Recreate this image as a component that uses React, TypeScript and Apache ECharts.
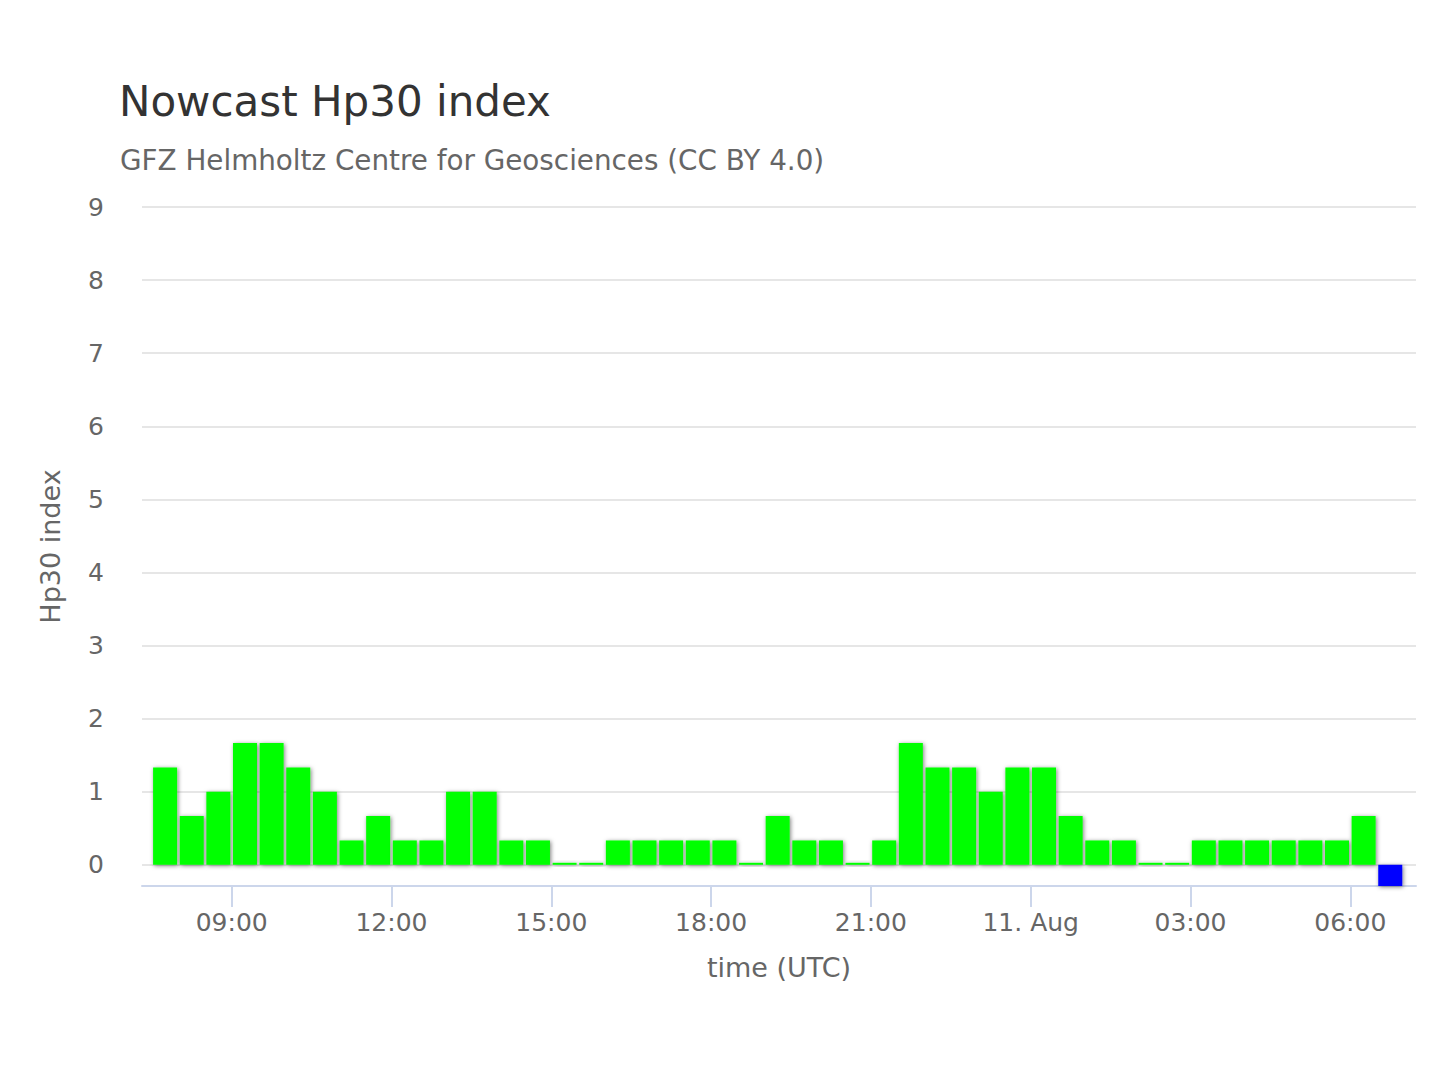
import React, { useEffect, useRef } from "react";
import * as echarts from "echarts";

const FONT = "DejaVu Sans";

// Start time (UTC) of each 30-minute Hp30 interval
const intervalStarts = [
  "2024-08-10T07:30:00Z", "2024-08-10T08:00:00Z", "2024-08-10T08:30:00Z", "2024-08-10T09:00:00Z",
  "2024-08-10T09:30:00Z", "2024-08-10T10:00:00Z", "2024-08-10T10:30:00Z", "2024-08-10T11:00:00Z",
  "2024-08-10T11:30:00Z", "2024-08-10T12:00:00Z", "2024-08-10T12:30:00Z", "2024-08-10T13:00:00Z",
  "2024-08-10T13:30:00Z", "2024-08-10T14:00:00Z", "2024-08-10T14:30:00Z", "2024-08-10T15:00:00Z",
  "2024-08-10T15:30:00Z", "2024-08-10T16:00:00Z", "2024-08-10T16:30:00Z", "2024-08-10T17:00:00Z",
  "2024-08-10T17:30:00Z", "2024-08-10T18:00:00Z", "2024-08-10T18:30:00Z", "2024-08-10T19:00:00Z",
  "2024-08-10T19:30:00Z", "2024-08-10T20:00:00Z", "2024-08-10T20:30:00Z", "2024-08-10T21:00:00Z",
  "2024-08-10T21:30:00Z", "2024-08-10T22:00:00Z", "2024-08-10T22:30:00Z", "2024-08-10T23:00:00Z",
  "2024-08-10T23:30:00Z", "2024-08-11T00:00:00Z", "2024-08-11T00:30:00Z", "2024-08-11T01:00:00Z",
  "2024-08-11T01:30:00Z", "2024-08-11T02:00:00Z", "2024-08-11T02:30:00Z", "2024-08-11T03:00:00Z",
  "2024-08-11T03:30:00Z", "2024-08-11T04:00:00Z", "2024-08-11T04:30:00Z", "2024-08-11T05:00:00Z",
  "2024-08-11T05:30:00Z", "2024-08-11T06:00:00Z", "2024-08-11T06:30:00Z",
];

// Hp30 values (null = not yet available)
const hp30Values = [
  1.333, 0.667, 1, 1.667, 1.667, 1.333, 1, 0.333,
  0.667, 0.333, 0.333, 1, 1, 0.333, 0.333, 0,
  0, 0.333, 0.333, 0.333, 0.333, 0.333, 0, 0.667,
  0.333, 0.333, 0, 0.333, 1.667, 1.333, 1.333, 1,
  1.333, 1.333, 0.667, 0.333, 0.333, 0, 0, 0.333,
  0.333, 0.333, 0.333, 0.333, 0.333, 0.667, null,
];

// Nowcast placeholder interval (blue)
const nowcastStarts = ["2024-08-11T06:30:00Z"];
const nowcastValues = [-0.29];

const xTickTimes = [
  "2024-08-10T09:00:00Z", "2024-08-10T12:00:00Z", "2024-08-10T15:00:00Z", "2024-08-10T18:00:00Z",
  "2024-08-10T21:00:00Z", "2024-08-11T00:00:00Z", "2024-08-11T03:00:00Z", "2024-08-11T06:00:00Z",
];
const yTickValues = [0, 1, 2, 3, 4, 5, 6, 7, 8, 9];

const X_MIN = "2024-08-10T07:19:00Z";
const X_MAX = "2024-08-11T07:14:00Z";
const Y_MIN = -0.29;
const Y_MAX = 9;

const MONTHS = ["Jan", "Feb", "Mar", "Apr", "May", "Jun", "Jul", "Aug", "Sep", "Oct", "Nov", "Dec"];
const HALF_SLOT = 15 * 60 * 1000;

function pad(n: number) {
  return n < 10 ? "0" + n : String(n);
}

function formatTime(v: number) {
  const d = new Date(v);
  const h = d.getUTCHours();
  const m = d.getUTCMinutes();
  if (h === 0 && m === 0) return `${d.getUTCDate()}. ${MONTHS[d.getUTCMonth()]}`;
  return `${pad(h)}:${pad(m)}`;
}

export default function App() {
  const ref = useRef<HTMLDivElement>(null);

  useEffect(() => {
    document.body.style.margin = "0";
    if (!ref.current) return;
    const chart = echarts.init(ref.current, undefined, { renderer: "svg" });

    const shadow = {
      shadowBlur: 4,
      shadowColor: "rgba(0,0,0,0.5)",
      shadowOffsetX: 1,
      shadowOffsetY: 1,
    };

    const hpData = intervalStarts.map((t, i) => [Date.parse(t) + HALF_SLOT, hp30Values[i]]);
    const ncData = nowcastStarts.map((t, i) => [Date.parse(t) + HALF_SLOT, nowcastValues[i]]);
    const ticks = xTickTimes.map((t) => Date.parse(t));

    chart.setOption({
      animation: false,
      backgroundColor: "#ffffff",
      textStyle: { fontFamily: FONT },
      title: [
        {
          text: "Nowcast Hp30 index",
          left: 119,
          top: 80,
          padding: 0,
          textStyle: { fontFamily: FONT, fontSize: 42, fontWeight: "normal", color: "#333333" },
        },
        {
          text: "GFZ Helmholtz Centre for Geosciences (CC BY 4.0)",
          left: 120,
          top: 146,
          padding: 0,
          textStyle: { fontFamily: FONT, fontSize: 27.8, fontWeight: "normal", color: "#666666" },
        },
      ],
      grid: { left: 142, right: 24, top: 207, bottom: 194 },
      xAxis: {
        type: "value",
        min: Date.parse(X_MIN),
        max: Date.parse(X_MAX),
        scale: true,
        name: "time (UTC)",
        nameLocation: "middle",
        nameGap: 68,
        nameTextStyle: { fontFamily: FONT, fontSize: 27, color: "#666666" },
        axisLine: { show: true, onZero: false, lineStyle: { color: "#ccd6eb", width: 2 } },
        axisTick: { show: true, length: 21, lineStyle: { color: "#ccd6eb", width: 2 }, customValues: ticks },
        axisLabel: {
          fontFamily: FONT,
          fontSize: 25,
          color: "#666666",
          margin: 24,
          customValues: ticks,
          formatter: (v: number) => formatTime(v),
        },
        splitLine: { show: false },
      },
      yAxis: {
        type: "value",
        min: Y_MIN,
        max: Y_MAX,
        minInterval: 1,
        maxInterval: 1,
        name: "Hp30 index",
        nameLocation: "middle",
        nameGap: 78,
        nameRotate: 90,
        nameTextStyle: { fontFamily: FONT, fontSize: 27, color: "#666666" },
        axisLine: { show: false },
        axisTick: { show: false },
        axisLabel: {
          fontFamily: FONT,
          fontSize: 25,
          color: "#666666",
          margin: 38,
          padding: [6, 0, 0, 0],
          customValues: yTickValues,
        },
        splitLine: { show: true, lineStyle: { color: "#e6e6e6", width: 2 } },
      },
      series: [
        {
          name: "Hp30",
          type: "bar",
          data: hpData,
          barWidth: 24,
          barGap: "-100%",
          barMinHeight: 2,
          itemStyle: { color: "#00ff00", ...shadow },
        },
        {
          name: "Nowcast",
          type: "bar",
          data: ncData,
          barWidth: 24,
          barGap: "-100%",
          itemStyle: { color: "#0000ff", ...shadow },
        },
      ],
    });

    return () => chart.dispose();
  }, []);

  return <div ref={ref} style={{ width: 1440, height: 1080 }} />;
}
